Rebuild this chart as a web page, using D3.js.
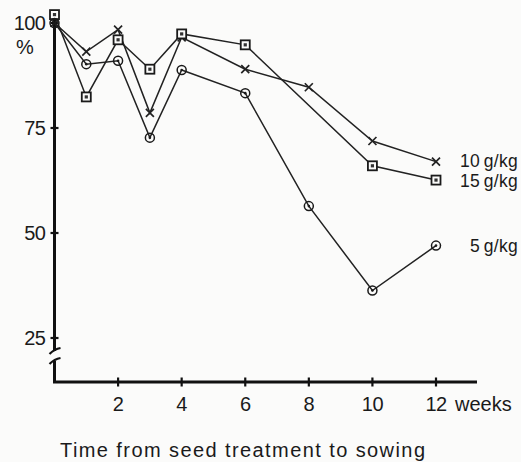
<!DOCTYPE html>
<html>
<head>
<meta charset="utf-8">
<script src="https://cdn.jsdelivr.net/npm/d3@7"></script>
<style>
  body { margin: 0; background: #fbfbfa; }
  svg { display: block; font-family: 'Liberation Sans', Arial, sans-serif; }
  .lbl { font-size: 20px; fill: #1a1a1a; }
  .leg { font-size: 17.5px; fill: #1a1a1a; word-spacing: -1.5px; letter-spacing: 0.3px; }
  .series path { fill: none; stroke: #222; stroke-width: 1.5px; }
  .mk { fill: none; stroke: #1a1a1a; stroke-width: 1.5px; }
</style>
</head>
<body>
<div id="chart"></div>
<script>
// weeks from seed treatment to sowing
const weeks = [0, 1, 2, 3, 4, 6, 8, 10, 12];
// germination %, per dose (null = no point)
const dose10 = [100, 93.2, 98.4, 78.6, 96.6, 89, 84.7, 71.9, 67];
const dose15 = [102, 82.4, 96, 89, 97.4, 94.8, null, 66, 62.6];
const dose5 = [100, 90.2, 91, 72.7, 88.8, 83.3, 56.4, 36.3, 47];

const xTicks = [2, 4, 6, 8, 10, 12];
const yTicks = [25, 50, 75, 100];

const series = [
    {name: '10 g/kg', values: dose10, marker: 'cross', nudge: -1},
    {name: '15 g/kg', values: dose15, marker: 'square', nudge: 1},
    {name: '5 g/kg', values: dose5, marker: 'circle', nudge: 0}
];

const width = 521, height = 462;

const x = d3.scaleLinear().domain([0, 12]).range([54.5, 436]);
const y = d3.scaleLinear().domain([25, 100]).range([338, 23]);
const axisY = 382; // x axis position, below the break

const svg = d3.select('#chart').append('svg')
    .attr('width', width)
    .attr('height', height);

// y axis with a break below 25
const yAx = svg.append('g').attr('class', 'y-axis')
    .attr('stroke', '#111').attr('stroke-width', 3).attr('fill', 'none');
yAx.append('line').attr('x1', x(0)).attr('x2', x(0)).attr('y1', 19).attr('y2', 351);
yAx.append('line').attr('x1', x(0)).attr('x2', x(0)).attr('y1', 361).attr('y2', axisY);
// break marks
yAx.append('path').attr('d', `M${x(0) - 5},${354} Q${x(0)},${349} ${x(0) + 6},${348}`).attr('stroke-width', 2.2);
yAx.append('path').attr('d', `M${x(0) - 5},${364} Q${x(0)},${359} ${x(0) + 6},${358}`).attr('stroke-width', 2.2);

yAx.selectAll('line.tick')
    .data(yTicks)
    .enter().append('line')
    .attr('class', 'tick')
    .attr('x1', x(0) - 4).attr('x2', x(0) + 4)
    .attr('y1', d => y(d)).attr('y2', d => y(d))
    .attr('stroke-width', 2.2);

svg.selectAll('text.ylab')
    .data(yTicks)
    .enter().append('text')
    .attr('class', 'lbl ylab')
    .attr('x', 45.5)
    .attr('y', d => y(d))
    .attr('dy', '0.36em')
    .attr('text-anchor', 'end')
    .attr('letter-spacing', -0.5)
    .text(d => d);

svg.append('text').attr('class', 'lbl')
    .attr('x', 25).attr('y', 54)
    .attr('text-anchor', 'middle')
    .text('%');

// x axis
const xAx = svg.append('g').attr('class', 'x-axis')
    .attr('stroke', '#111').attr('fill', 'none');
xAx.append('line').attr('x1', x(0) - 1.5).attr('x2', 477)
    .attr('y1', axisY).attr('y2', axisY).attr('stroke-width', 3);
xAx.selectAll('line.tick')
    .data(xTicks)
    .enter().append('line')
    .attr('class', 'tick')
    .attr('x1', d => x(d)).attr('x2', d => x(d))
    .attr('y1', axisY - 4.5).attr('y2', axisY + 4.5)
    .attr('stroke-width', 2.2);

svg.selectAll('text.xlab')
    .data(xTicks)
    .enter().append('text')
    .attr('class', 'lbl xlab')
    .attr('x', d => x(d))
    .attr('y', 411)
    .attr('text-anchor', 'middle')
    .attr('letter-spacing', -0.5)
    .text(d => d);

svg.append('text').attr('class', 'lbl')
    .attr('x', 455).attr('y', 411)
    .text('weeks');

svg.append('text').attr('class', 'lbl')
    .attr('x', 60).attr('y', 457)
    .attr('textLength', 365)
    .attr('lengthAdjust', 'spacing')
    .text('Time from seed treatment to sowing');

// lines
const line = d3.line()
    .x(d => x(d.w))
    .y(d => y(d.v));

series.forEach(s => {
    s.points = weeks.map((w, i) => ({w: w, v: s.values[i]})).filter(d => d.v !== null);
});

const g = svg.selectAll('g.series')
    .data(series)
    .enter().append('g')
    .attr('class', 'series');

g.append('path').attr('d', d => line(d.points));

// markers
g.each(function(s) {
    const sel = d3.select(this).selectAll('g.pt')
        .data(s.points)
        .enter().append('g')
        .attr('class', 'pt')
        .attr('transform', d => `translate(${x(d.w)},${y(d.v)})`);
    if (s.marker === 'circle') {
        sel.append('circle').attr('class', 'mk').attr('r', 4.5).attr('fill', '#fbfbfa');
        sel.append('circle').attr('r', 1.3).attr('fill', '#1a1a1a');
    } else if (s.marker === 'square') {
        sel.append('rect').attr('class', 'mk')
            .attr('x', -4.5).attr('y', -4.5).attr('width', 9).attr('height', 9)
            .style('fill', '#fbfbfa').style('stroke-width', '1.8px');
        sel.append('rect').attr('x', -1.6).attr('y', -1.6).attr('width', 3.2).attr('height', 3.2)
            .attr('fill', '#333');
    } else {
        sel.append('path').attr('class', 'mk')
            .attr('d', 'M-4,-4L4,4M-4,4L4,-4')
            .style('stroke-width', '1.7px');
    }
});

// series labels at end of lines
g.append('text')
    .attr('class', 'leg')
    .attr('x', 518)
    .attr('y', d => y(d.points[d.points.length - 1].v) + d.nudge)
    .attr('dy', '0.36em')
    .attr('text-anchor', 'end')
    .text(d => d.name);
</script>
</body>
</html>
